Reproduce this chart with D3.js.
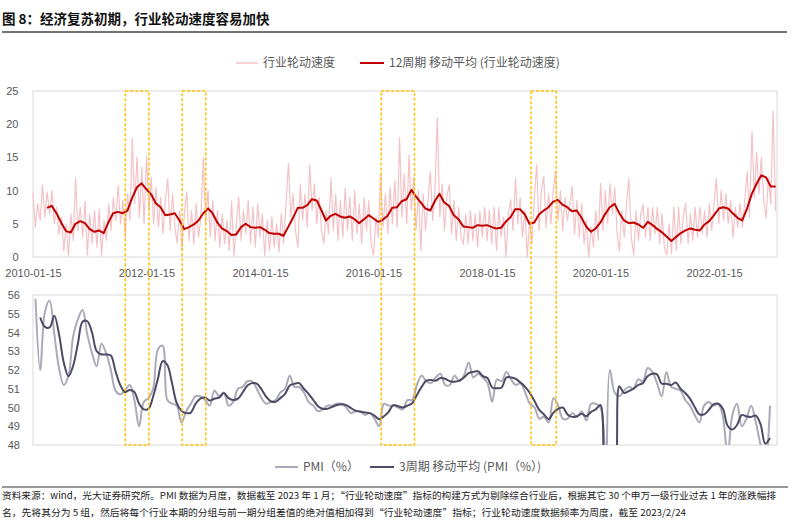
<!DOCTYPE html>
<html><head><meta charset="utf-8">
<script src="https://cdn.jsdelivr.net/npm/d3@7"></script>
<style>body{margin:0;background:#fff;} svg{display:block;}</style>
</head><body>
<svg id="c" width="800" height="526"></svg>
<script>
// ---- data ----
// 行业轮动速度, half-month samples from 2010-01-15
const rotationVals = [
 9.6,4.5,8.0,5.5,10.9,6.0,9.8,6.5,10.0,5.0,7.5,3.4,6.0,0.9,5.0,0.2,6.5,2.5,11.9,4.0,7.5,3.0,8.4,0.3,
 6.5,2.0,7.0,1.5,7.2,0.2,5.5,2.5,8.0,4.0,9.0,5.5,10.8,5.0,8.5,3.0,9.5,5.5,17.9,8.0,15.1,6.0,13.5,5.0,
 15.2,7.0,12.0,5.0,10.5,4.5,9.0,3.5,8.5,11.8,4.0,9.5,4.5,2.1,7.0,1.0,6.5,9.8,2.5,7.0,2.0,8.0,3.0,6.0,
 14.9,5.0,10.0,3.0,8.5,2.5,7.0,1.5,6.5,2.0,5.5,1.0,8.4,0.2,5.0,9.0,2.5,7.0,3.5,8.5,2.0,7.5,1.5,8.0,
 3.0,6.5,0.2,5.5,1.0,6.0,1.5,5.0,0.8,6.5,2.0,8.0,14.1,6.0,9.5,4.0,1.4,11.0,5.5,9.5,4.5,13.9,7.0,11.0,
 5.0,9.0,4.0,2.0,7.0,3.5,11.9,4.0,9.5,2.5,8.5,3.0,10.4,4.0,9.0,2.5,10.0,3.5,8.0,2.0,9.0,4.0,8.5,2.0,
 0.3,6.0,3.0,12.5,4.5,9.5,3.5,10.5,5.0,11.5,4.5,18.0,6.0,12.5,5.0,15.4,7.0,12.0,4.0,10.0,0.9,9.5,4.0,8.5,
 12.9,5.5,10.0,21.0,6.0,11.0,4.0,9.0,10.9,3.5,8.5,2.5,7.5,3.0,1.9,6.5,2.0,7.0,2.5,6.5,1.5,6.9,3.0,7.5,
 2.5,7.0,2.0,7.5,1.0,7.5,3.0,6.0,0.1,6.5,8.6,4.0,11.9,5.0,9.0,3.0,7.0,0.0,5.5,2.0,9.0,13.9,4.0,10.0,
 12.1,4.5,9.5,5.0,10.0,12.9,5.5,10.0,4.0,9.0,5.5,8.0,10.6,3.5,8.5,3.0,8.0,2.0,5.5,0.0,4.5,1.5,7.0,2.5,
 11.1,4.0,10.0,5.0,11.0,6.5,10.5,3.5,0.9,7.0,3.0,8.0,11.9,3.0,0.3,7.0,2.5,6.5,7.9,3.0,7.5,2.5,7.5,3.5,
 7.5,2.0,6.5,1.5,0.3,5.0,0.5,7.5,1.0,7.5,2.0,6.0,8.1,2.0,6.5,2.5,7.5,3.0,7.5,3.5,7.0,3.0,8.0,4.0,
 8.0,11.9,5.0,10.0,5.5,9.5,5.0,8.5,2.9,7.5,4.5,8.0,4.5,8.5,12.9,6.0,18.9,9.0,15.7,9.5,15.0,8.5,5.9,12.0,
 8.0,22.0,6.9
];
// 12周期 移动平均, monthly samples from 2010-04
const rotationMAVals = [
 7.4,7.7,6.6,5.2,3.9,3.7,5.0,5.4,5.1,4.2,
 3.8,4.0,3.6,5.2,6.6,6.8,6.6,7.0,8.9,10.5,
 11.1,10.2,9.4,8.1,7.5,6.3,6.4,6.6,5.5,4.2,
 4.5,4.9,5.5,6.6,7.3,6.6,5.2,4.3,3.9,3.3,
 3.4,4.5,5.0,4.5,4.4,4.5,4.1,3.6,3.5,3.5,
 3.2,4.5,5.9,7.4,7.4,7.8,8.7,8.5,7.0,5.5,
 6.2,6.5,6.1,5.9,6.1,5.7,5.1,5.7,6.3,5.8,
 5.3,5.6,6.2,7.4,7.5,8.4,8.7,10.1,9.1,8.2,
 7.3,7.0,8.5,9.5,8.2,7.7,6.3,5.7,4.6,4.5,
 4.4,4.8,4.7,4.8,4.5,4.3,4.4,5.3,6.0,7.2,
 7.2,6.4,5.0,5.2,6.4,7.0,7.5,8.3,8.6,7.9,
 7.5,6.9,7.0,5.9,4.6,3.8,4.3,5.2,6.5,7.5,
 8.0,6.6,5.5,5.1,5.2,4.9,4.4,5.3,4.8,4.2,
 3.7,3.1,2.4,3.0,3.6,4.0,4.3,4.1,4.0,4.9,
 5.4,6.3,7.3,7.5,7.3,6.6,5.9,5.5,7.3,9.5,
 11.0,12.3,12.0,10.6,10.6
];
// PMI (%), monthly 2010-01 .. 2023-01
const pmiVals = [
 55.8,52.0,55.1,55.7,53.9,52.1,51.2,51.7,53.8,54.7,55.2,53.9,
 52.9,52.2,53.4,52.9,52.0,50.9,50.7,50.9,51.2,50.4,49.0,50.3,
 50.5,51.0,53.1,53.3,50.4,50.2,50.1,49.2,49.8,50.2,50.6,50.6,
 50.4,50.1,50.9,50.6,50.8,50.1,50.3,51.0,51.1,51.4,51.4,51.0,
 50.5,50.2,50.3,50.4,50.8,51.0,51.7,51.1,51.1,50.8,50.3,50.1,
 49.8,49.9,50.1,50.1,50.2,50.2,50.0,49.7,49.8,49.8,49.6,49.7,
 49.4,49.0,50.2,50.1,50.1,50.0,49.9,50.4,50.4,51.2,51.7,51.4,
 51.3,51.6,51.8,51.2,51.2,51.7,51.4,51.7,52.4,51.6,51.8,51.6,
 51.3,50.3,51.5,51.4,51.9,51.5,51.2,51.3,50.8,50.2,50.0,49.4,
 49.5,49.2,50.5,50.1,49.4,49.4,49.7,49.5,49.8,49.3,50.2,50.2,
 50.0,35.7,52.0,50.8,50.6,50.9,51.1,51.0,51.5,51.4,52.1,51.9,
 51.3,50.6,51.9,51.1,51.0,50.9,50.4,50.1,49.6,49.2,50.1,50.3,
 50.1,50.2,49.5,47.4,49.6,50.2,49.0,49.4,50.1,49.2,48.0,47.0,
 50.1
];
// 3周期 移动平均 (PMI)
const pmiMAVals = [
 null,54.80,54.30,54.27,54.90,53.90,52.40,51.67,52.23,53.40,54.57,54.60,
 54.00,53.00,52.83,52.83,52.77,51.93,51.20,50.83,50.93,50.83,50.20,49.90,
 49.93,50.60,51.53,52.47,52.27,51.30,50.23,49.83,49.70,49.73,50.20,50.47,
 50.53,50.37,50.47,50.53,50.77,50.50,50.40,50.47,50.80,51.17,51.30,51.27,
 50.97,50.57,50.33,50.30,50.50,50.73,51.17,51.27,51.30,51.00,50.73,50.40,
 50.07,49.93,49.93,50.03,50.13,50.17,50.13,49.97,49.83,49.77,49.73,49.70,
 49.57,49.37,49.53,49.77,50.13,50.07,50.00,50.10,50.23,50.67,51.10,51.43,
 51.47,51.43,51.57,51.53,51.40,51.37,51.43,51.60,51.83,51.90,51.93,51.67,
 51.57,51.07,51.03,51.07,51.60,51.60,51.53,51.33,51.10,50.77,50.33,49.87,
 49.63,49.37,49.73,49.93,50.00,49.63,49.50,49.53,49.67,49.53,49.77,49.90,
 50.13,45.30,45.90,46.17,51.13,50.77,50.87,51.00,51.20,51.30,51.67,51.80,
 51.77,51.27,51.27,51.20,51.33,51.00,50.77,50.47,50.03,49.63,49.63,49.87,
 50.17,50.20,49.93,49.03,48.83,49.07,49.60,49.53,49.50,49.57,49.10,48.07,
 48.37
];
const xTickLabels = ["2010-01-15","2012-01-15","2014-01-15","2016-01-15","2018-01-15","2020-01-15","2022-01-15"];
const topYTicks = [0,5,10,15,20,25];
const botYTicks = [48,49,50,51,52,53,54,55,56];
const highlightPeriods = [["2011-09-01","2012-01-31"],["2012-09-01","2013-01-31"],["2016-03-05","2016-10-05"],["2018-10-25","2019-04-05"]];
const titleText = "图 8：经济复苏初期，行业轮动速度容易加快";
const legendTop = ["行业轮动速度","12周期 移动平均 (行业轮动速度)"];
const legendBot = ["PMI（%）","3周期 移动平均 (PMI（%）)"];
const footer1 = "资料来源：wind，光大证券研究所。PMI 数据为月度，数据截至 2023 年 1 月；“行业轮动速度”指标的构建方式为剔除综合行业后，根据其它 30 个申万一级行业过去 1 年的涨跌幅排";
const footer2 = "名，先将其分为 5 组，然后将每个行业本期的分组与前一期分组差值的绝对值相加得到“行业轮动速度”指标；行业轮动速度数据频率为周度，截至 2023/2/24";

// ---- drawing ----
const svg = d3.select("#c");
const CJK = "'Noto Sans CJK SC','Noto Sans',sans-serif";
const NUM = "'Liberation Sans',Arial,sans-serif";
const T = {l:33, r:777, t:91, b:257};
const B = {l:33, r:777, t:295, b:445};
const parse = d3.timeParse("%Y-%m-%d");

const xTop = d3.scaleTime().domain([parse("2010-01-15"), parse("2023-02-24")]).range([T.l, T.r]);
const yTop = d3.scaleLinear().domain([0,25]).range([T.b, T.t]);
const xBot = d3.scaleLinear().domain([0, pmiVals.length-1]).range([35.5, 770]);
const yBot = d3.scaleLinear().domain([48,56]).range([B.b, B.t]);

const rotation = rotationVals.map((v,j)=>({d:new Date(2010,0,15+Math.round(j*365.25/24)), v}));
const rotationMA = rotationMAVals.map((v,i)=>({d:new Date(2010,3+i,15), v}));
const pmi = pmiVals.map((v,i)=>({i, v}));
const pmiMA = pmiMAVals.map((v,i)=>({i, v}));

// title
svg.append("text").attr("x",2).attr("y",24).attr("font-family",CJK).attr("font-weight",700)
  .attr("font-size",13.5).attr("fill","#111").text(titleText);
svg.append("line").attr("x1",2).attr("x2",787).attr("y1",32).attr("y2",32).attr("stroke","#444").attr("stroke-width",1.5);

// frames
svg.append("rect").attr("x",T.l).attr("y",T.t).attr("width",T.r-T.l).attr("height",T.b-T.t)
  .attr("fill","none").attr("stroke","#D9D9D9").attr("stroke-width",1);
svg.append("rect").attr("x",B.l).attr("y",B.t).attr("width",B.r-B.l).attr("height",B.b-B.t)
  .attr("fill","none").attr("stroke","#D9D9D9").attr("stroke-width",1);

// axes
function styleAxis(g){
  g.select(".domain").remove();
  g.selectAll("text").attr("font-family",NUM).attr("font-size",11).attr("fill","#595959");
}
svg.append("g").attr("transform",`translate(${T.l},0)`)
  .call(d3.axisLeft(yTop).tickValues(topYTicks).tickSize(0).tickPadding(14.5)).call(styleAxis);
svg.append("g").attr("transform",`translate(0,${T.b})`)
  .call(d3.axisBottom(xTop).tickValues(xTickLabels.map(parse)).tickFormat(d3.timeFormat("%Y-%m-%d")).tickSize(0).tickPadding(12))
  .call(styleAxis);
svg.append("g").attr("transform",`translate(${B.l},0)`)
  .call(d3.axisLeft(yBot).tickValues(botYTicks).tickSize(0).tickPadding(13)).call(styleAxis);

// top lines
const lineTop = d3.line().x(d=>xTop(d.d)).y(d=>yTop(d.v));
svg.append("path").datum(rotation).attr("d",lineTop).attr("fill","none")
  .attr("stroke","#F3C2C7").attr("stroke-width",1.2).attr("stroke-linejoin","round");
svg.append("path").datum(rotationMA).attr("d",lineTop).attr("fill","none")
  .attr("stroke","#C00000").attr("stroke-width",2).attr("stroke-linejoin","round");

// bottom lines (clipped)
svg.append("clipPath").attr("id","clipB").append("rect")
  .attr("x",B.l).attr("y",B.t-2).attr("width",B.r-B.l).attr("height",B.b-B.t+2);
const gB = svg.append("g").attr("clip-path","url(#clipB)");
const lineBot = d3.line().defined(d=>d.v!=null).x(d=>xBot(d.i)).y(d=>yBot(d.v)).curve(d3.curveCatmullRom.alpha(0.5));
gB.append("path").datum(pmi).attr("d",lineBot).attr("fill","none")
  .attr("stroke","#AAAAB8").attr("stroke-width",2);
gB.append("path").datum(pmiMA).attr("d",lineBot).attr("fill","none")
  .attr("stroke","#4B4B66").attr("stroke-width",2);

// highlight boxes
svg.selectAll("rect.hl").data(highlightPeriods).join("rect").attr("class","hl")
  .attr("x",d=>xTop(parse(d[0]))).attr("width",d=>xTop(parse(d[1]))-xTop(parse(d[0])))
  .attr("y",T.t).attr("height",B.b-T.t)
  .attr("fill","none").attr("stroke","#FFC000").attr("stroke-width",1.5).attr("stroke-dasharray","3,2");

// legends
function legendItem(x1,x2,y,color,w,label){
  svg.append("line").attr("x1",x1).attr("x2",x2).attr("y1",y).attr("y2",y).attr("stroke",color).attr("stroke-width",w);
  svg.append("text").attr("x",x2+5).attr("y",y+4.3).attr("font-family",CJK).attr("font-size",12)
    .attr("fill","#595959").text(label);
}
legendItem(236,258,63,"#F3C2C7",1.5,legendTop[0]);
legendItem(360,384,63,"#C00000",2,legendTop[1]);
legendItem(275,298,467,"#AAAAB8",2,legendBot[0]);
legendItem(370,394,467,"#4B4B66",2,legendBot[1]);

// footer
svg.append("line").attr("x1",2).attr("x2",788).attr("y1",487).attr("y2",487).attr("stroke","#333").attr("stroke-width",1.2);
svg.append("text").attr("x",2).attr("y",499).attr("font-family",CJK).attr("font-size",9.5).attr("fill","#222")
  .attr("textLength",774).attr("lengthAdjust","spacingAndGlyphs").text(footer1);
svg.append("text").attr("x",2).attr("y",516).attr("font-family",CJK).attr("font-size",9.5).attr("fill","#222")
  .attr("textLength",684).attr("lengthAdjust","spacingAndGlyphs").text(footer2);
</script>
</body></html>
